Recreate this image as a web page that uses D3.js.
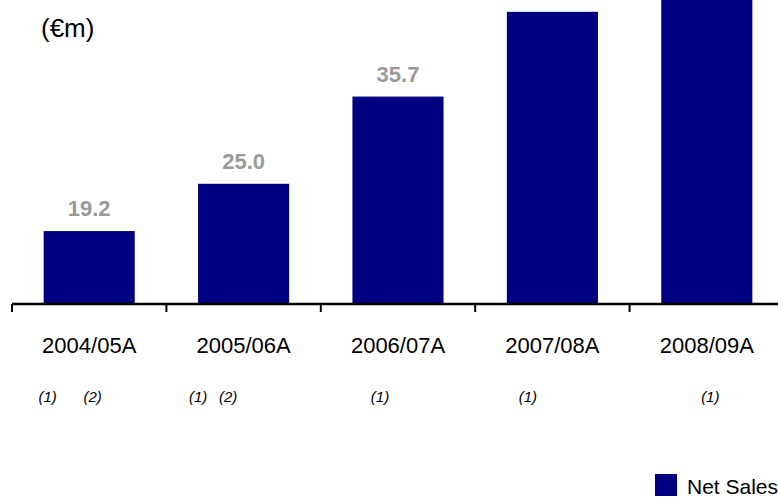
<!DOCTYPE html>
<html>
<head>
<meta charset="utf-8">
<script src="https://cdn.jsdelivr.net/npm/d3@7"></script>
<style>
    body { margin: 0; background: #ffffff; }
    svg { display: block; font-family: "Liberation Sans", Arial, sans-serif; }
</style>
</head>
<body>
<div id="chart"></div>
<script>
// Data
var categories = ["2004/05A", "2005/06A", "2006/07A", "2007/08A", "2008/09A"];
var netSales = [19.2, 25.0, 35.7, 46.1, 51.0];
var footnotes = [["(1)", "(2)"], ["(1)", "(2)"], ["(1)"], ["(1)"], ["(1)"]];
var seriesName = "Net Sales";
var unitLabel = "(\u20acm)";

// Layout (offsets of the footnote marks from each band centre)
var footnoteDx = [[-41.5, 3.5], [-45.5, -15.5], [-18], [-24.5], [3.5]];

var style = {
    width: 778,
    height: 499,
    axisY: 304,
    axisLeft: 12,
    step: 154.4,
    barColor: "#000080",
    labelColor: "#9a9a9a",
    textColor: "#000000"
};

var svg = d3.select("#chart").append("svg")
    .attr("width", style.width)
    .attr("height", style.height);

var x = d3.scaleBand()
    .domain(categories)
    .range([style.axisLeft, style.axisLeft + style.step * categories.length])
    .paddingInner(0.41)
    .paddingOuter(0.205);

var y = d3.scaleLinear()
    .domain([10.25, 50])
    .range([style.axisY, style.axisY - 39.75 * 8.15]);

// unit label
svg.append("text")
    .attr("x", 41)
    .attr("y", 37)
    .attr("font-size", 26)
    .attr("fill", style.textColor)
    .text(unitLabel);

// bars
svg.selectAll("rect.bar")
    .data(netSales)
    .enter().append("rect")
    .attr("class", "bar")
    .attr("x", function(d, i) { return x(categories[i]); })
    .attr("y", function(d) { return y(d); })
    .attr("width", x.bandwidth())
    .attr("height", function(d) { return style.axisY - y(d); })
    .attr("fill", style.barColor);

// value labels (the ones above the page top are not visible in the original)
var labelled = netSales.map(function(d, i) { return {v: d, c: categories[i]}; })
    .filter(function(d) { return y(d.v) - 15 > 24; });

svg.selectAll("text.value")
    .data(labelled)
    .enter().append("text")
    .attr("class", "value")
    .attr("x", function(d) { return x(d.c) + x.bandwidth() / 2; })
    .attr("y", function(d) { return y(d.v) - 15; })
    .attr("text-anchor", "middle")
    .attr("font-size", 22)
    .attr("font-weight", "bold")
    .attr("fill", style.labelColor)
    .text(function(d) { return d3.format(".1f")(d.v); });

// x axis
var axis = d3.axisBottom(x)
    .tickSize(0)
    .tickPadding(34);

var axisGroup = svg.append("g")
    .attr("transform", "translate(0," + style.axisY + ")")
    .call(axis);

axisGroup.select(".domain").remove();
axisGroup.selectAll("text")
    .attr("font-size", 22)
    .attr("font-family", "Liberation Sans, Arial, sans-serif")
    .attr("fill", style.textColor)
    .attr("dy", "0.68em");

axisGroup.append("line")
    .attr("x1", style.axisLeft)
    .attr("x2", style.width)
    .attr("y1", 0)
    .attr("y2", 0)
    .attr("stroke", "#000")
    .attr("stroke-width", 2.5);

// boundary ticks between bands
var boundaries = d3.range(categories.length).map(function(i) {
    return x(categories[i]) - x.step() * x.paddingOuter();
});
axisGroup.selectAll("line.tick-mark")
    .data(boundaries)
    .enter().append("line")
    .attr("class", "tick-mark")
    .attr("x1", function(d) { return d; })
    .attr("x2", function(d) { return d; })
    .attr("y1", 0)
    .attr("y2", 8)
    .attr("stroke", "#000")
    .attr("stroke-width", 2);

// footnote marks
footnotes.forEach(function(notes, i) {
    var cx = x(categories[i]) + x.bandwidth() / 2;
    notes.forEach(function(n, j) {
        svg.append("text")
            .attr("x", cx + footnoteDx[i][j])
            .attr("y", 402)
            .attr("text-anchor", "middle")
            .attr("font-size", 15)
            .attr("font-style", "italic")
            .attr("fill", style.textColor)
            .text(n);
    });
});

// legend
var legend = svg.append("g")
    .attr("transform", "translate(655,474)");

legend.append("rect")
    .attr("width", 22)
    .attr("height", 22)
    .attr("fill", style.barColor);

legend.append("text")
    .attr("x", 32)
    .attr("y", 20)
    .attr("font-size", 21)
    .attr("fill", style.textColor)
    .text(seriesName);
</script>
</body>
</html>
